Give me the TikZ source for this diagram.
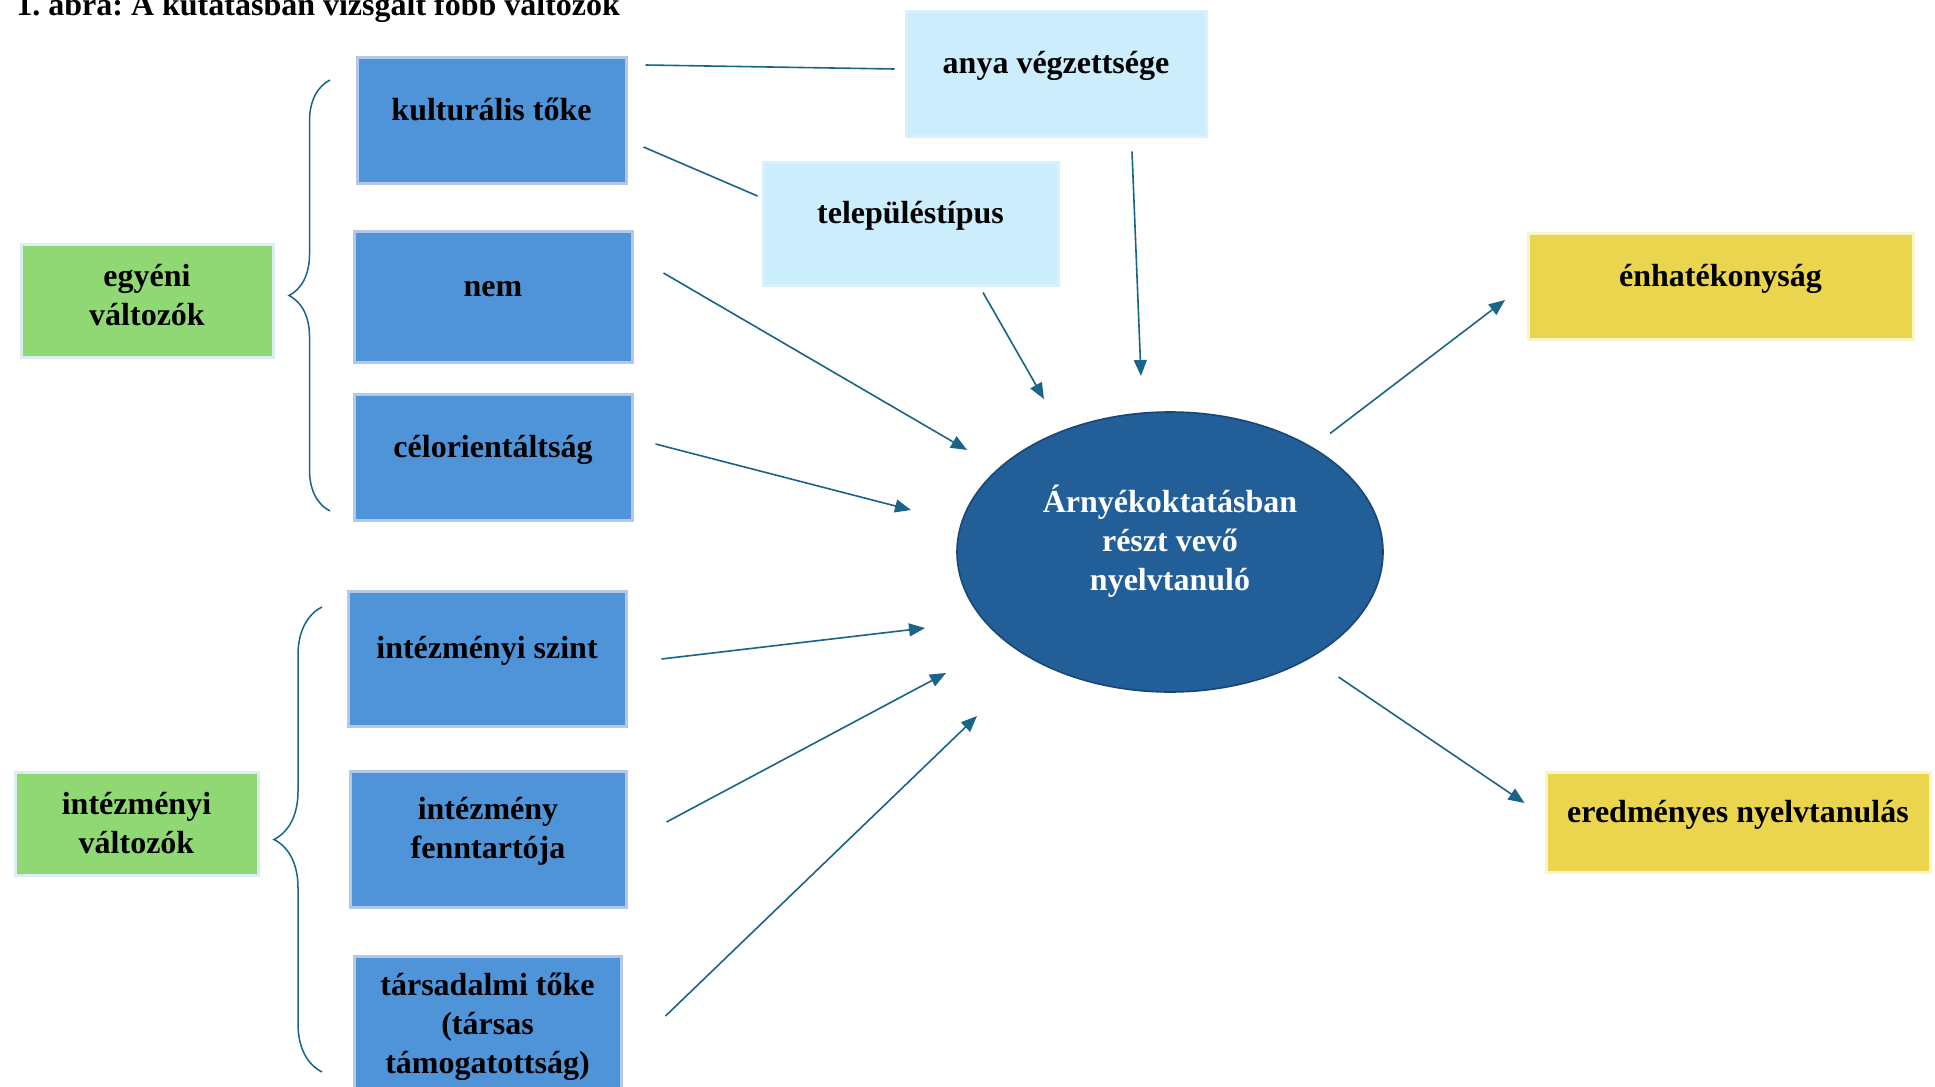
\documentclass[tikz,border=0pt]{standalone}
\usepackage{fontspec}
\setmainfont{Liberation Serif}
\frenchspacing
\usetikzlibrary{arrows.meta,calc,shapes.geometric,decorations.pathreplacing}

\definecolor{kekdoboz}{RGB}{79,148,216}
\definecolor{kekkeret}{RGB}{182,200,232}
\definecolor{vilagoskek}{RGB}{204,237,251}
\definecolor{vilagoskeret}{RGB}{214,241,252}
\definecolor{zold}{RGB}{143,216,115}
\definecolor{zoldkeret}{RGB}{220,236,244}
\definecolor{sarga}{RGB}{235,213,79}
\definecolor{sargakeret}{RGB}{248,246,200}
\definecolor{ellkek}{RGB}{34,95,153}
\definecolor{ellkeret}{RGB}{26,70,115}
\definecolor{vonal}{RGB}{26,100,135}

\begin{document}
\begin{tikzpicture}[x=0.5pt,y=-0.5pt,
    betu/.style={font=\fontsize{16}{19.5}\selectfont\bfseries, align=center},
    doboz/.style={betu, rectangle, line width=1.5pt, inner sep=0pt},
    egysor/.style={text height=10pt, text depth=10pt},
    kek/.style={doboz, fill=kekdoboz, draw=kekkeret},
    vkek/.style={doboz, fill=vilagoskek, draw=vilagoskeret},
    zoldbox/.style={doboz, fill=zold, draw=zoldkeret},
    sargabox/.style={doboz, fill=sarga, draw=sargakeret},
    vonalas/.style={draw=vonal, line width=0.8pt},
    nyil/.style={vonalas, -{Triangle[length=8pt,width=6.5pt]}},
    zarojel/.style={draw=vonal, line width=0.75pt, decorate}]

    \useasboundingbox (0,0) rectangle (1935,1087);
    \fill[white] (0,0) rectangle (1935,1087);

    %title
    \node[betu, anchor=base west, inner sep=0pt] (cim) at (16,15)
        {1. ábra: A kutatásban vizsgált főbb változók};

    %individual variables
    \node[zoldbox, minimum width=126pt, minimum height=56.5pt] (egyeni) at (147,300.5) {};
    \node[betu, inner sep=0pt] (egyeniSzoveg) at ([yshift=2.5pt]egyeni.center) {egyéni\\változók};
    \node[kek, egysor, minimum width=134.5pt, minimum height=63pt] (kulturalis) at (491.5,120) {kulturális tőke};
    \node[kek, egysor, minimum width=139pt, minimum height=65.5pt] (nem) at (493,296.5) {nem};
    \node[kek, egysor, minimum width=139pt, minimum height=63pt] (celor) at (493,457) {célorientáltság};

    %institutional variables
    \node[zoldbox, minimum width=121.5pt, minimum height=51.5pt] (intvalt) at (136.5,823.5) {intézményi\\változók};
    \node[kek, egysor, minimum width=139pt, minimum height=67.5pt] (intszint) at (487,658.5) {intézményi szint};
    \node[kek, minimum width=138pt, minimum height=68pt] (fenntarto) at (488,839) {};
    \node[betu, inner sep=0pt] (fenntartoSzoveg) at ([yshift=4pt]fenntarto.center) {intézmény\\fenntartója};
    \node[kek, minimum width=133.5pt, minimum height=71pt] (tarsadalmi) at (487.5,1027) {társadalmi tőke\\(társas\\támogatottság)};

    %background variables
    \node[vkek, egysor, minimum width=150pt, minimum height=62.5pt] (anya) at (1056,73.5) {anya végzettsége};
    \node[vkek, egysor, minimum width=147.5pt, minimum height=61.5pt] (telepules) at (910.5,223.5) {településtípus};

    %learner in the middle
    \node[ellipse, fill=ellkek, draw=ellkeret, line width=0.8pt, minimum width=213pt, minimum height=140pt, inner sep=0pt] (arnyek) at (1170,552) {};
    \node[betu, text=white, inner sep=0pt] (arnyekSzoveg) at ([yshift=5.5pt]arnyek.center) {Árnyékoktatásban\\részt vevő\\nyelvtanuló};

    %outcomes
    \node[sargabox, egysor, minimum width=192.5pt, minimum height=53pt] (enhat) at (1720.5,286) {énhatékonyság};
    \node[sargabox, egysor, minimum width=192pt, minimum height=50pt] (eredmeny) at (1738,822) {eredményes nyelvtanulás};

    %draw braces
    \draw[zarojel, decoration={brace, amplitude=20.5pt}] (330,511) -- (330,80);
    \draw[zarojel, decoration={brace, amplitude=24pt}] (322,1072) -- (322,607);

    %draw plain links
    \draw[vonalas] ($(kulturalis.east)+(18,-55)$) -- ($(anya.west)+(-10,-4.5)$);
    \draw[vonalas] ($(kulturalis.east)+(16,27)$) -- ($(telepules.west)+(-4,-27.5)$);

    %draw arrows into the learner
    \draw[nyil] ($(telepules.south)+(72.5,6)$) -- ($(arnyek)+(-126,-153)$);
    \draw[nyil] ($(anya.south)+(76,14)$) -- ($(arnyek)+(-29,-176)$);
    \draw[nyil] ($(nem.east)+(30,-23.5)$) -- ($(arnyek)+(-203,-102)$);
    \draw[nyil] ($(celor.east)+(22,-13)$) -- ($(arnyek)+(-259,-42)$);
    \draw[nyil] ($(intszint.east)+(34,0.5)$) -- ($(arnyek)+(-245,76)$);
    \draw[nyil] ($(fenntarto.east)+(39,-17)$) -- ($(arnyek)+(-224,121)$);
    \draw[nyil] ($(tarsadalmi.east)+(43,-11)$) -- ($(arnyek)+(-193,164)$);

    %draw arrows out of the learner
    \draw[nyil] ($(arnyek)+(160,-118.5)$) -- ($(enhat.west)+(-21.5,14)$);
    \draw[nyil] ($(arnyek)+(168.5,125)$) -- ($(eredmeny.west)+(-20,-19)$);

\end{tikzpicture}
\end{document}
